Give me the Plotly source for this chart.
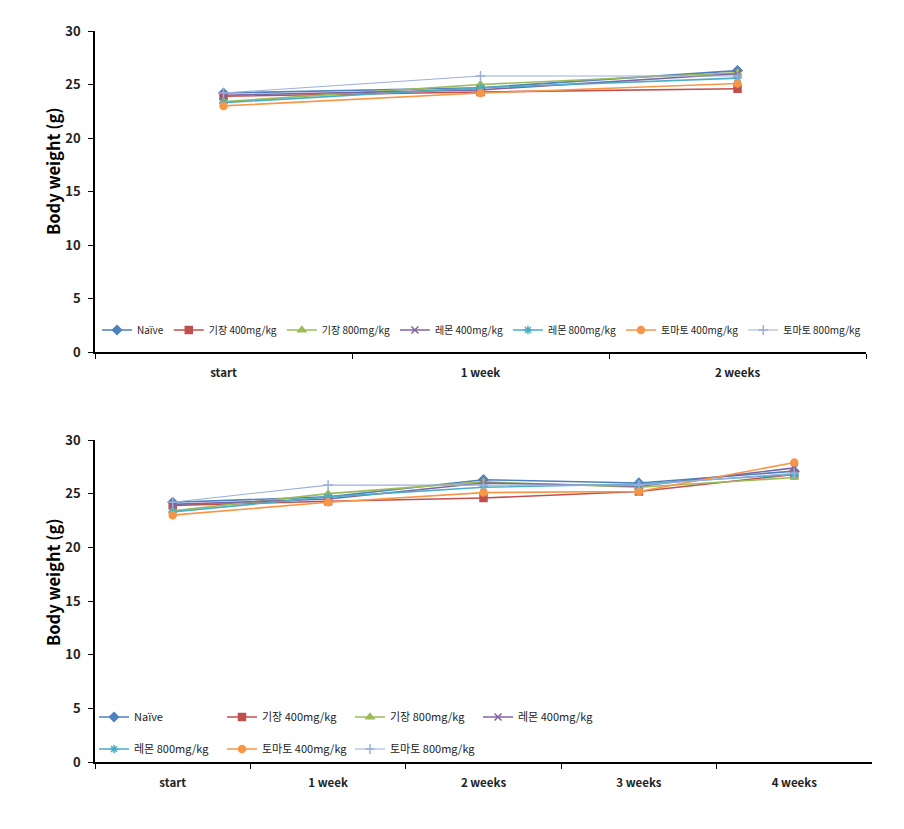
import plotly.graph_objects as go

# ---------------- data ----------------
categories_top = ["start", "1 week", "2 weeks"]
categories_bottom = ["start", "1 week", "2 weeks", "3 weeks", "4 weeks"]

series_names = ["Naïve", "기장 400mg/kg", "기장 800mg/kg", "레몬 400mg/kg",
                "레몬 800mg/kg", "토마토 400mg/kg", "토마토 800mg/kg"]

naive = [24.2, 24.7, 26.3, 26.0, 27.1]
gijang400 = [23.9, 24.3, 24.6, 25.2, 26.8]
gijang800 = [23.4, 25.0, 26.1, 25.6, 26.5]
lemon400 = [24.0, 24.5, 26.0, 25.7, 27.4]
lemon800 = [23.3, 24.7, 25.6, 25.9, 26.8]
tomato400 = [23.0, 24.2, 25.1, 25.2, 27.9]
tomato800 = [24.2, 25.8, 25.8, 25.8, 26.9]

y_ticks = [0, 5, 10, 15, 20, 25, 30]
y_title = "Body weight (g)"

# ---------------- styles ----------------
all_values = [naive, gijang400, gijang800, lemon400, lemon800, tomato400, tomato800]
colors = ["#4F81BD", "#C0504D", "#9BBB59", "#8064A2", "#4BACC6", "#F79646", "#9DAEDB"]
symbols = ["diamond", "square", "triangle-up", "x-thin-open", "asterisk-open",
           "circle", "cross-thin-open"]
widths = [1.6, 1.6, 1.6, 1.6, 1.6, 1.6, 1.1]

W, H = 904, 829
FONT = "Noto Sans CJK KR"

fig = go.Figure()

def px_x(p):
    return p / W

def px_y(p):
    return 1 - p / H

# bottom legend split into two rows
legend_bottom = ["legend2"] * 4 + ["legend3"] * 3

for i, (name, vals) in enumerate(zip(series_names, all_values)):
    mk = dict(symbol=symbols[i], size=7, color=colors[i],
              line=dict(color=colors[i], width=1.5))
    fig.add_trace(go.Scatter(
        x=categories_top, y=vals[:len(categories_top)], name=name,
        mode="lines+markers", line=dict(color=colors[i], width=widths[i]),
        marker=mk, xaxis="x", yaxis="y", legend="legend"))
    fig.add_trace(go.Scatter(
        x=categories_bottom, y=vals[:len(categories_bottom)], name=name,
        mode="lines+markers", line=dict(color=colors[i], width=widths[i]),
        marker=mk, xaxis="x2", yaxis="y2", legend=legend_bottom[i]))

axis_common_y = dict(
    range=[0, 30], tickvals=y_ticks, showline=True, linecolor="black", linewidth=1.5,
    ticks="outside", ticklen=5, tickcolor="black", showgrid=False, zeroline=False,
    tickfont=dict(family=FONT, size=13, color="#222", weight="bold"),
    ticklabelstandoff=5, fixedrange=True,
)
axis_common_x = dict(
    showline=True, linecolor="black", linewidth=1.5, ticks="outside", ticklen=5,
    tickcolor="black", tickson="boundaries", showgrid=False, zeroline=False,
    tickfont=dict(family=FONT, size=11.5, color="#222", weight="bold"),
    ticklabelstandoff=9, fixedrange=True,
)

legend_font_top = dict(family=FONT, size=10, color="#222")
legend_font_bottom = dict(family=FONT, size=11, color="#222")

title_font = dict(family=FONT, size=16.5, color="black", weight="bold")
annotations = [
    dict(text=y_title, x=px_x(53), y=px_y(171), xref="paper", yref="paper",
         textangle=-90, showarrow=False, font=title_font, xanchor="center", yanchor="middle"),
    dict(text=y_title, x=px_x(53), y=px_y(582), xref="paper", yref="paper",
         textangle=-90, showarrow=False, font=title_font, xanchor="center", yanchor="middle"),
]

fig.update_layout(
    width=W, height=H,
    margin=dict(l=0, r=0, t=0, b=0, autoexpand=False),
    paper_bgcolor="white", plot_bgcolor="white",
    xaxis=dict(domain=[px_x(95), px_x(866)], anchor="y", type="category",
               categoryorder="array", categoryarray=categories_top,
               range=[-0.5, len(categories_top) - 0.5], **axis_common_x),
    yaxis=dict(domain=[px_y(352), px_y(31)], anchor="x", **axis_common_y),
    xaxis2=dict(domain=[px_x(95), px_x(872)], anchor="y2", type="category",
                categoryorder="array", categoryarray=categories_bottom,
                range=[-0.5, len(categories_bottom) - 0.5], **axis_common_x),
    yaxis2=dict(domain=[px_y(762), px_y(440)], anchor="x2", **axis_common_y),
    legend=dict(orientation="h", x=px_x(97), y=px_y(330), xanchor="left", yanchor="middle",
                bgcolor="rgba(0,0,0,0)", font=legend_font_top,
                itemwidth=30, tracegroupgap=0, traceorder="normal"),
    legend2=dict(orientation="h", x=px_x(94), y=px_y(717), xanchor="left", yanchor="middle",
                 bgcolor="rgba(0,0,0,0)", font=legend_font_bottom,
                 itemwidth=30, entrywidth=83, entrywidthmode="pixels", traceorder="normal"),
    legend3=dict(orientation="h", x=px_x(94), y=px_y(749), xanchor="left", yanchor="middle",
                 bgcolor="rgba(0,0,0,0)", font=legend_font_bottom,
                 itemwidth=30, entrywidth=83, entrywidthmode="pixels", traceorder="normal"),
    annotations=annotations,
    showlegend=True,
)

fig.write_html(
    "out.html",
    config={"displayModeBar": False},
    post_script="document.body.style.margin='0px';document.body.style.overflow='hidden';",
)
